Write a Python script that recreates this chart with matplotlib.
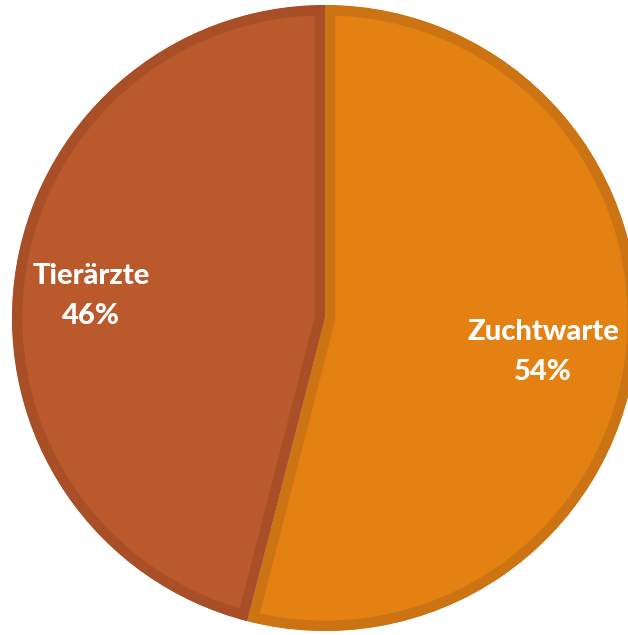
import matplotlib.pyplot as plt

labels = ['Zuchtwarte', 'Tierärzte']
shares = [54, 46]
fill_colors = ['#E38213', '#BA5A2C']
edge_colors = ['#CC7414', '#A94F28']

fig = plt.figure(figsize=(6.28, 6.35), dpi=100)
# circle centre at px (325, 318), radius 313 px
cx, cy, r = 325, 318, 313
ax = fig.add_axes([(cx - r) / 628, (635 - cy - r) / 635, 2 * r / 628, 2 * r / 635])

wedges, _ = ax.pie(shares, colors=fill_colors, startangle=90, counterclock=False,
                   radius=1, center=(0, 0), frame=False)
ax.set_xlim(-1, 1)
ax.set_ylim(-1, 1)
ax.axis('off')
for w, ec in zip(wedges, edge_colors):
    w.set_edgecolor(ec)
    w.set_linewidth(15)
    w.set_clip_path(w)
    w.set_clip_on(True)

def px(x, y):
    return (x - cx) / r, (cy - y) / r

font = dict(color='white', fontweight='black', family=['Lato', 'DejaVu Sans'],
            fontsize=21, ha='center', va='center', linespacing=1.65)
ax.text(*px(91, 296), f'{labels[1]}\n{shares[1]}%', **font)
ax.text(*px(543, 352), f'{labels[0]}\n{shares[0]}%', **font)

fig.savefig('out.png', dpi=100)
